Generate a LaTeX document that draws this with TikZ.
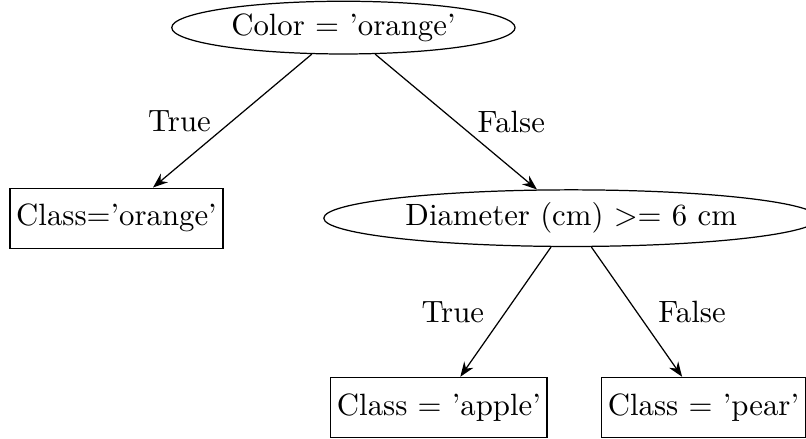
\documentclass[tikz,border=0pt]{standalone}
\usetikzlibrary{arrows.meta, shapes.geometric}

\begin{document}
\begin{tikzpicture}[>=Stealth,
    test/.style={draw, ellipse, inner xsep=3pt, inner ysep=1.5pt},
    leaf/.style={draw, rectangle, inner xsep=2pt, minimum height=19.5pt}]
    % Page size (the lower ellipse runs off the right edge)
    \useasboundingbox (0,0) rectangle (9.2,-5.01);

    % Tests
    \node[test] (color) at (3.92,-0.315) {Color = 'orange'};
    \node[test] (diam) at (6.52,-2.49) {Diameter (cm) >= 6 cm};

    % Leaves
    \node[leaf] (orange) at (1.33,-2.49) {Class='orange'};
    \node[leaf] (apple) at (5.01,-4.65) {Class = 'apple'};
    \node[leaf] (pear) at (8.03,-4.65) {Class = 'pear'};

    % Branches
    \draw[->] (color) -- node[midway, left=3.5pt] {True} (orange);
    \draw[->] (color) -- node[midway, right=3.5pt] {False} (diam);
    \draw[->] (diam) -- node[midway, left=3.5pt] {True} (apple);
    \draw[->] (diam) -- node[midway, right=3.5pt] {False} (pear);
\end{tikzpicture}
\end{document}
